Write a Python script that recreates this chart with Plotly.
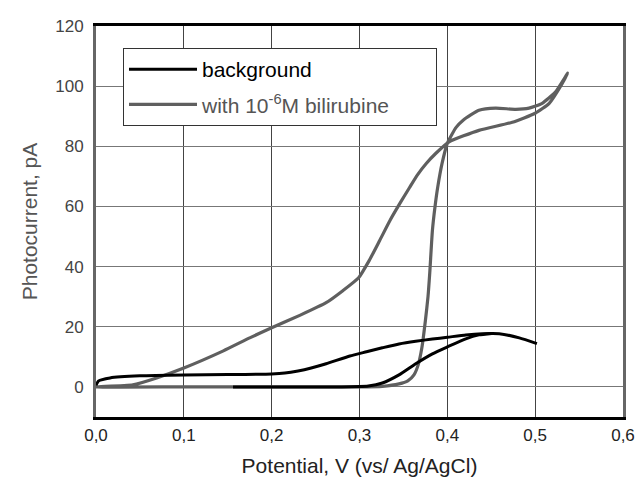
import plotly.graph_objects as go

# ---- data ----
# background: upper branch and lower branch
bg_upper_v = [0.0, 0.003, 0.016, 0.05, 0.10, 0.15, 0.20, 0.215, 0.230, 0.245, 0.262, 0.289, 0.308,
              0.326, 0.345, 0.364, 0.383, 0.400, 0.421, 0.440, 0.459, 0.482, 0.502]
bg_upper_i = [0.5, 2.0, 3.0, 3.7, 4.0, 4.1, 4.3, 4.6, 5.3, 6.3, 7.7, 10.3, 11.7,
              13.0, 14.3, 15.2, 15.9, 16.5, 17.3, 17.7, 17.7, 16.3, 14.4]
bg_lower_v = [0.156, 0.20, 0.28, 0.31, 0.326, 0.345, 0.364, 0.383, 0.400, 0.421, 0.436, 0.450]
bg_lower_i = [0.0, 0.0, 0.0, 0.3, 1.3, 4.0, 7.7, 11.0, 13.3, 16.0, 17.3, 17.8]

# with 1e-6 M bilirubine: one closed loop
bili_v = [0.0, 0.10, 0.20, 0.30, 0.326, 0.345, 0.355, 0.362, 0.367, 0.371, 0.375, 0.378,
          0.380, 0.383, 0.386, 0.389, 0.394, 0.400, 0.410, 0.418, 0.436, 0.455, 0.478,
          0.493, 0.508, 0.523, 0.537,
          0.530, 0.516, 0.500, 0.474, 0.436, 0.402, 0.387, 0.376, 0.366, 0.357, 0.347,
          0.335, 0.323, 0.311, 0.299, 0.281, 0.262, 0.232, 0.200, 0.175, 0.145, 0.100,
          0.069, 0.042, 0.0]
bili_i = [0.0, 0.0, 0.0, 0.0, 0.2, 1.0, 2.0, 4.0, 7.5, 13.0, 22.0, 30.0,
          38.0, 52.0, 60.0, 66.3, 74.3, 81.0, 86.3, 88.7, 92.0, 92.7, 92.3,
          92.7, 94.3, 98.0, 104.3,
          100.5, 94.3, 91.0, 88.0, 85.3, 81.5, 77.7, 74.3, 70.5, 66.3, 61.5,
          55.5, 48.7, 42.0, 36.3, 32.0, 28.0, 23.8, 19.7, 16.3, 12.0, 6.3,
          3.0, 0.7, 0.0]

x_ticks = [0.0, 0.1, 0.2, 0.3, 0.4, 0.5, 0.6]
x_tick_text = ["0,0", "0,1", "0,2", "0,3", "0,4", "0,5", "0,6"]
y_ticks = [0, 20, 40, 60, 80, 100, 120]

FONT = "Liberation Sans, Arial, sans-serif"
PAD = "&nbsp;" * 7

fig = go.Figure()
fig.add_trace(go.Scatter(
    x=bili_v, y=bili_i, mode="lines",
    name='<span style="color:#555555">with 10<sup>-6</sup>M bilirubine</span>' + PAD,
    line=dict(color="#5f5f5f", width=3.2, shape="spline", smoothing=0.5),
    legendrank=2, legendgroup="b",
))
fig.add_trace(go.Scatter(
    x=bg_upper_v + [None] + bg_lower_v,
    y=bg_upper_i + [None] + bg_lower_i,
    mode="lines", name="background", connectgaps=False,
    line=dict(color="#000000", width=3, shape="spline", smoothing=0.5),
    legendrank=1, legendgroup="a",
))

fig.update_layout(
    width=638, height=477,
    margin=dict(l=96, r=15, t=26, b=60, autoexpand=False),
    paper_bgcolor="white", plot_bgcolor="white",
    font=dict(family=FONT, size=17, color="#222222"),
    showlegend=True,
    legend=dict(
        x=(123 - 96) / 527, y=(417 - 48) / 391, xanchor="left", yanchor="top",
        bgcolor="white", bordercolor="#333333", borderwidth=1,
        font=dict(family=FONT, size=21, color="#000000"),
        tracegroupgap=5, traceorder="grouped",
        itemwidth=68,
    ),
    xaxis=dict(
        range=[0, 0.6], tickvals=x_ticks, ticktext=x_tick_text,
        showgrid=True, gridcolor="#444444", gridwidth=1,
        zeroline=False, showline=True, linecolor="#000000", linewidth=3, mirror=True,
        ticks="", ticklabelstandoff=1,
        tickfont=dict(size=17, color="#222222"),
        title=dict(text="Potential, V (vs/ Ag/AgCl)", font=dict(size=21, color="#222222"), standoff=21),
        automargin=False,
    ),
    yaxis=dict(
        range=[-10, 120], tickvals=y_ticks,
        showgrid=True, gridcolor="#777777", gridwidth=1,
        zeroline=False, showline=True, linecolor="#666666", linewidth=3, mirror=True,
        ticks="", ticklabelstandoff=6,
        tickfont=dict(size=17, color="#444444"),
        title=dict(text="Photocurrent, pA", font=dict(size=21, color="#555555"), standoff=12),
        automargin=False,
    ),
)

fig.write_html("out.html", config={"displayModeBar": False},
               post_script="document.body.style.margin='0';")
